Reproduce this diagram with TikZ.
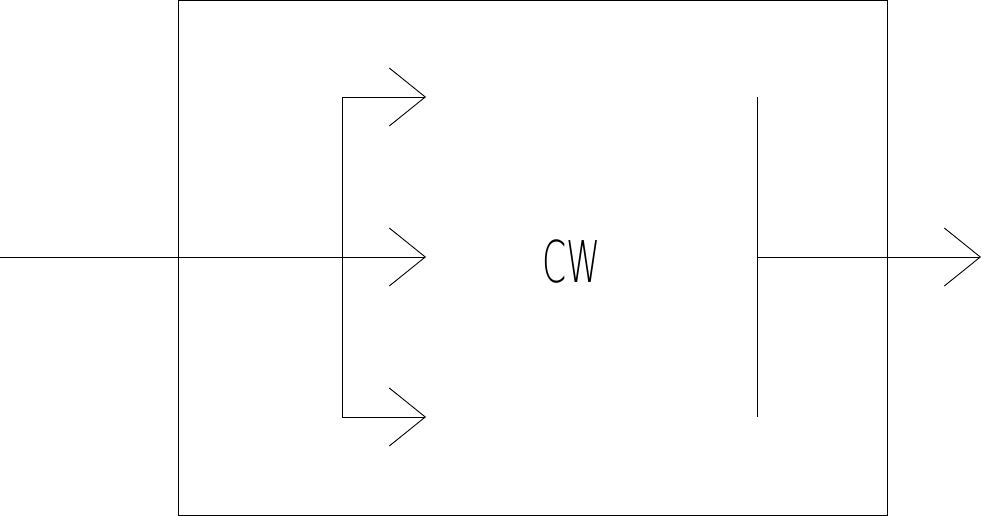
\documentclass[tikz,border=0pt]{standalone}
\usepackage{fontspec}
\newfontfamily\cwfont{DejaVu Sans ExtraLight}
\usetikzlibrary{arrows.meta}
\tikzset{
  wire/.style={draw=black, line width=0.9pt},
  chev/.style={-{Straight Barb[length=36pt,width=58pt,line width=0.9pt]}},
  lbl/.style={inner sep=0pt, font=\cwfont\fontsize{57.6}{60}\selectfont, xscale=0.6}
}
\begin{document}
\begin{tikzpicture}[x=1pt,y=-1pt]
\useasboundingbox (0,0) rectangle (982,516);
\draw[wire] (178,0.5) rectangle (887,515);
% coordinates
\coordinate (in) at (0,257);
\coordinate (split) at (342,257);
\coordinate (top) at (342,97);
\coordinate (bot) at (342,417);
\coordinate (ta) at (426,97);
\coordinate (ma) at (426,257);
\coordinate (ba) at (426,417);
\coordinate (rt) at (757,97);
\coordinate (rb) at (757,417);
\coordinate (rm) at (757,257);
\coordinate (out) at (981,257);
\draw[wire,chev] (in) -- (ma);
\draw[wire,chev] (top) -- (ta);
\draw[wire,chev] (bot) -- (ba);
\draw[wire] (top) -- (bot);
\draw[wire] (rt) -- (rb);
\draw[wire,chev] (rm) -- (out);
\node[lbl] (cw) at (571.5,262) {CW};
\end{tikzpicture}
\end{document}
